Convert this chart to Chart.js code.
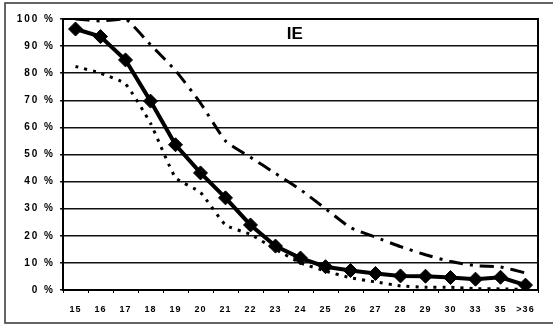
<!DOCTYPE html>
<html>
<head>
<meta charset="utf-8">
<title>IE</title>
<script src="https://cdn.jsdelivr.net/npm/chart.js@4.4.1/dist/chart.umd.min.js"></script>
<style>
    html, body { margin: 0; padding: 0; background: #fff; }
    canvas { display: block; }
</style>
</head>
<body>
<canvas id="ieChart" width="553" height="326"></canvas>
<script>
// age groups along the bottom
const ages = ["15", "16", "17", "18", "19", "20", "21", "22", "23", "24",
    "25", "26", "27", "28", "29", "30", "33", "35", ">36"];

// share still in the group, in %
const shareMain = [96.3, 93.5, 84.9, 69.7, 53.6, 43.2, 34, 24, 16.2, 11.8,
    8.6, 7.2, 6.1, 5.2, 5.1, 4.6, 4, 4.7, 1.8];
const shareUpper = [100, 99.3, 100, 90.5, 81, 69, 55, 49, 43, 37,
    30, 23, 19.5, 16, 13, 10.5, 9, 8.5, 6.3];
const shareLower = [82.5, 80, 76, 61.5, 41.5, 36, 24, 20.5, 15, 10,
    7, 4.5, 3, 1.5, 1, 1, 0.5, 0.4, 0.2];

const yMax = 100;
const yStep = 10;

const tickFont = { family: "'Liberation Sans', Arial, sans-serif", weight: "bold" };

// letter-spaced tick labels, per axis
function spaceLabels(scale, spacing) {
    if (scale._spaced) return;
    const draw = scale.drawLabels;
    scale.drawLabels = function (area) {
        const ctx = this.ctx;
        ctx.save();
        ctx.letterSpacing = spacing;
        draw.call(this, area);
        ctx.restore();
    };
    scale._spaced = true;
}

const framePlugin = {
    id: "frame",
    beforeDraw(chart) {
        const ctx = chart.ctx;
        ctx.save();
        ctx.fillStyle = "#fff";
        ctx.fillRect(0, 0, chart.width, chart.height);
        ctx.strokeStyle = "#333";
        ctx.lineWidth = 1.5;
        ctx.strokeRect(5, 3, chart.width + 20, chart.height - 6);
        ctx.restore();
        spaceLabels(chart.scales.y, "2px");
        spaceLabels(chart.scales.x, "1px");
    },
    afterDraw(chart) {
        const { ctx, chartArea } = chart;
        ctx.save();
        ctx.strokeStyle = "#000";
        ctx.lineWidth = 2;
        ctx.strokeRect(chartArea.left, chartArea.top,
            chartArea.right - chartArea.left, chartArea.bottom - chartArea.top);
        ctx.fillStyle = "#000";
        ctx.font = "bold 17px 'Liberation Sans', Arial, sans-serif";
        ctx.textAlign = "center";
        ctx.textBaseline = "middle";
        ctx.fillText("IE", chartArea.left + (chartArea.right - chartArea.left) * 0.488,
            chartArea.top + 15);
        ctx.restore();
    },
};

new Chart(document.querySelector("#ieChart"), {
    type: "line",
    data: {
        labels: ages,
        datasets: [
            {
                data: shareMain,
                borderColor: "#000",
                backgroundColor: "#000",
                borderWidth: 4,
                pointStyle: "rectRot",
                pointRadius: 7,
                pointBorderWidth: 1,
                tension: 0,
            },
            {
                data: shareUpper,
                borderColor: "#000",
                borderWidth: 3,
                borderDash: [14, 7, 3, 7],
                pointRadius: 0,
                tension: 0.15,
            },
            {
                data: shareLower,
                borderColor: "#000",
                borderWidth: 3,
                borderDash: [3, 6],
                pointRadius: 0,
                tension: 0.15,
            },
        ],
    },
    options: {
        responsive: false,
        animation: false,
        layout: { padding: { left: 0, top: 19, right: 15, bottom: 0 } },
        plugins: {
            legend: { display: false },
            tooltip: { enabled: false },
        },
        scales: {
            x: {
                offset: true,
                afterFit: (scale) => { scale.height = 36; },
                grid: {
                    offset: true,
                    drawOnChartArea: false,
                    drawTicks: true,
                    tickLength: 3,
                    color: "#000",
                    lineWidth: 1,
                },
                border: { display: true, color: "#000", width: 2 },
                ticks: {
                    color: "#000",
                    font: { ...tickFont, size: 9 },
                    padding: 11,
                    maxRotation: 0,
                    autoSkip: false,
                },
            },
            y: {
                min: 0,
                max: yMax,
                afterFit: (scale) => { scale.width = 63; },
                grid: {
                    color: "#111",
                    lineWidth: 1.5,
                    tickLength: 3,
                },
                border: { display: true, color: "#000", width: 2 },
                ticks: {
                    stepSize: yStep,
                    color: "#000",
                    font: { ...tickFont, size: 10 },
                    padding: 5,
                    callback: (value) => value + " %",
                },
            },
        },
    },
    plugins: [framePlugin],
});
</script>
</body>
</html>
